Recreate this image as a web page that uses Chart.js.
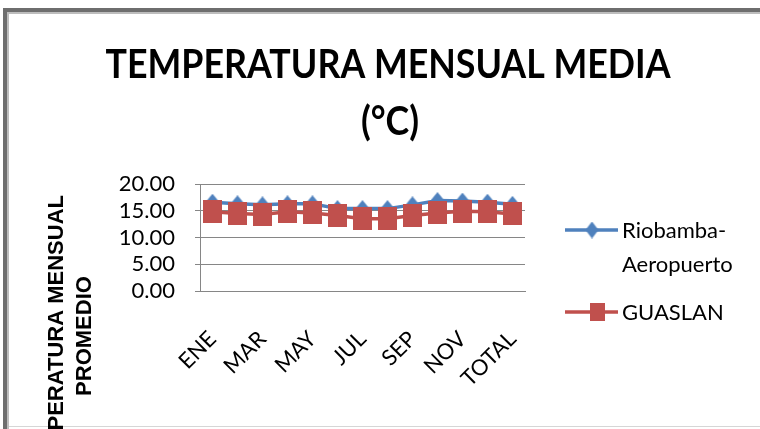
<!DOCTYPE html>
<html><head><meta charset="utf-8">
<style>html,body{margin:0;padding:0;background:#fff;overflow:hidden}#wrap{position:relative;width:760px;height:429px}canvas{display:block}</style>
<script src="https://cdn.jsdelivr.net/npm/chart.js@4/dist/chart.umd.min.js"></script>
</head><body><div id="wrap"><canvas id="c" width="760" height="429"></canvas></div>
<script>
const categories = ['ENE','FEB','MAR','ABR','MAY','JUN','JUL','AGO','SEP','OCT','NOV','DIC','TOTAL'];
const riobambaAeropuerto = [16.6,16.3,16.1,16.3,16.3,15.4,15.4,15.4,16.1,16.9,16.8,16.6,16.2];
const guaslan = [14.8,14.5,14.3,14.8,14.6,14.1,13.5,13.5,14.1,14.6,14.9,14.8,14.4];
const yTicks = [0,5,10,15,20];
const seriesNames = ['Riobamba-Aeropuerto','GUASLAN'];
const legendLines = [['Riobamba-','Aeropuerto'],['GUASLAN']];
const titleLines = ['TEMPERATURA MENSUAL MEDIA','(°C)'];
const yTitleLines = ['TEMPERATURA MENSUAL','PROMEDIO'];

const BLUE = '#4F81BD', RED = '#C0504D';
function makeRect(w,h,color){const c=document.createElement('canvas');c.width=w;c.height=h;const x=c.getContext('2d');x.fillStyle=color;x.fillRect(0,0,w,h);return c;}
function makeDiamond(w,h,color){const c=document.createElement('canvas');c.width=w;c.height=h;const x=c.getContext('2d');x.fillStyle=color;x.beginPath();x.moveTo(w/2,0);x.lineTo(w,h/2);x.lineTo(w/2,h);x.lineTo(0,h/2);x.closePath();x.fill();return c;}
const blueMark = makeDiamond(14,17,BLUE), redMark = makeRect(19,23,RED);
const blueLeg = makeDiamond(13,17,BLUE), redLeg = makeRect(15,18,RED);

const decor = {
  id:'decor',
  beforeDraw(chart){const ctx=chart.ctx;ctx.save();ctx.fillStyle='#fff';ctx.fillRect(0,0,chart.width,chart.height);ctx.restore();},
  afterDraw(chart){
    const ctx=chart.ctx; ctx.save();
    // frame
    ctx.fillStyle='#6e6e6e'; ctx.fillRect(3,8,757,4); ctx.fillRect(3,8,4,421);
    ctx.fillStyle='#bdbdbd'; ctx.fillRect(7,12,753,2); ctx.fillRect(7,12,2,417);
    ctx.fillStyle='#d6d6d6'; ctx.fillRect(9,426,751,1);
    // title
    ctx.fillStyle='#000'; ctx.textAlign='center'; ctx.textBaseline='alphabetic';
    ctx.font='bold 40px Lato';
    const w=ctx.measureText(titleLines[0]).width; const fs=40*565/w;
    ctx.font='bold '+fs.toFixed(2)+'px Lato';
    const sy=29/(0.7165*fs);
    [[titleLines[0],388,78],[titleLines[1],390,135]].forEach(([t,x,y])=>{ctx.save();ctx.translate(x,y);ctx.scale(1,sy);ctx.fillText(t,0,0);ctx.restore();});
    // y axis title
    ctx.font='bold 22px "Liberation Sans"';
    [[yTitleLines[0],63],[yTitleLines[1],91]].forEach(([t,x])=>{ctx.save();ctx.translate(x,336);ctx.rotate(-Math.PI/2);ctx.fillText(t,0,0);ctx.restore();});
    // legend
    ctx.textAlign='left'; ctx.font='22px Lato'; ctx.lineWidth=3.5;
    ctx.strokeStyle=BLUE; ctx.beginPath(); ctx.moveTo(565,230); ctx.lineTo(618,230); ctx.stroke();
    ctx.drawImage(blueLeg,592-6.5,230-8.5);
    ctx.fillText(legendLines[0][0],622,238); ctx.fillText(legendLines[0][1],622,272);
    ctx.strokeStyle=RED; ctx.beginPath(); ctx.moveTo(565,312); ctx.lineTo(618,312); ctx.stroke();
    ctx.drawImage(redLeg,597-7.5,312-9);
    ctx.fillText(legendLines[1][0],622,320);
    ctx.restore();
  }
};

new Chart(document.getElementById('c'),{
  type:'line',
  data:{labels:categories,datasets:[
    {label:seriesNames[0],data:riobambaAeropuerto,borderColor:BLUE,backgroundColor:BLUE,borderWidth:3.5,pointStyle:blueMark,pointRadius:8,order:1,tension:0},
    {label:seriesNames[1],data:guaslan,borderColor:RED,backgroundColor:RED,borderWidth:3.5,pointStyle:redMark,pointRadius:10,order:0,tension:0}
  ]},
  options:{
    responsive:false,animation:false,devicePixelRatio:1,
    layout:{padding:{top:184,right:235,left:0,bottom:0}},
    plugins:{legend:{display:false},title:{display:false},tooltip:{enabled:false}},
    scales:{
      x:{offset:true,grid:{display:false,drawTicks:false},border:{color:'#868686',width:1},
        ticks:{autoSkip:false,maxRotation:45,minRotation:45,padding:35,color:'#000',font:{family:'Lato',size:22},
          callback:(v,i)=> i%2===0 ? categories[i] : ''},
        afterFit:s=>{s.height=138;}},
      y:{min:0,max:20,afterBuildTicks:s=>{s.ticks=yTicks.map(v=>({value:v}));},
        grid:{color:'#868686',tickLength:5,drawTicks:true},border:{color:'#868686'},
        ticks:{autoSkip:false,padding:20,color:'#000',font:{family:'Lato',size:22},callback:v=>Number(v).toFixed(2)},
        afterFit:s=>{s.width=200;}}
    }
  },
  plugins:[decor]
});
</script></body></html>
